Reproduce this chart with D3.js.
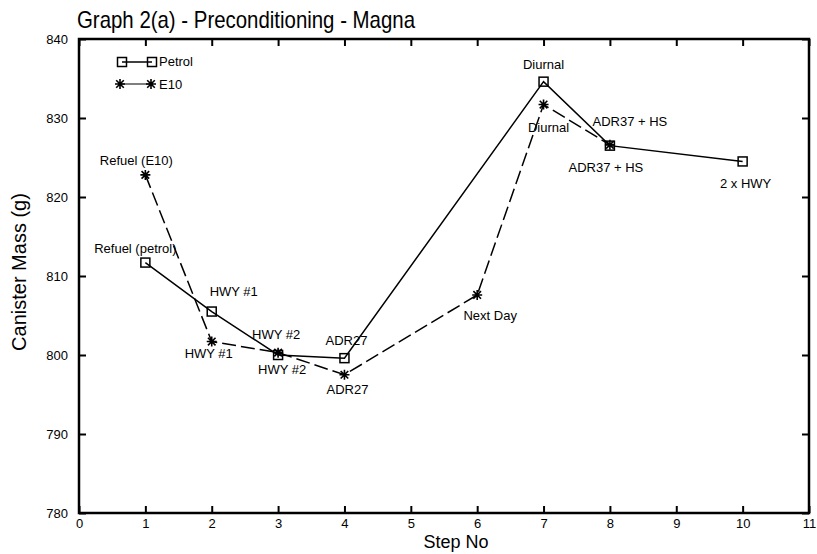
<!DOCTYPE html>
<html>
<head>
<meta charset="utf-8">
<script src="https://cdn.jsdelivr.net/npm/d3@7"></script>
<style>
  body { margin: 0; background: #fff; }
  text { font-family: "Liberation Sans", Arial, Helvetica, sans-serif; fill: #000; }
</style>
</head>
<body>
<div id="chart"></div>
<script>
//data
const petrolSteps = [1, 2, 3, 4, 7, 8, 10]
const petrolMass = [811.7, 805.5, 800.0, 799.6, 834.6, 826.5, 824.5]
const petrolLabels = ['Refuel (petrol)', 'HWY #1', 'HWY #2', 'ADR27', 'Diurnal', 'ADR37 + HS', '2 x HWY']

const e10Steps = [1, 2, 3, 4, 6, 7, 8]
const e10Mass = [822.8, 801.7, 800.3, 797.5, 807.6, 831.7, 826.6]
const e10Labels = ['Refuel (E10)', 'HWY #1', 'HWY #2', 'ADR27', 'Next Day', 'Diurnal', 'ADR37 + HS']

const xTicks = d3.range(0, 12)
const yTicks = [780, 790, 800, 810, 820, 830, 840]

// label offsets from their point (text centre, baseline)
const petrolOffsets = [[-10, -10], [22, -16], [-2, -16], [2, -13], [0, -13], [-4, 26], [3, 27]]
const e10Offsets = [[-9, -10], [-3, 16], [4, 21], [3, 19], [13, 25], [5, 27], [20, -19]]

//dimensions
const dimensions = {
  width: 817,
  height: 554,
  margin: { top: 39, right: 8, bottom: 41, left: 79 },
}
const innerW = dimensions.width - dimensions.margin.left - dimensions.margin.right
const innerH = dimensions.height - dimensions.margin.top - dimensions.margin.bottom

const svg = d3.select('#chart')
  .append('svg')
  .attr('width', dimensions.width)
  .attr('height', dimensions.height)

const g = svg.append('g')
  .attr('transform', `translate(${dimensions.margin.left},${dimensions.margin.top})`)

//scales
const x = d3.scaleLinear().domain([0, 11]).range([0, innerW])
const y = d3.scaleLinear().domain([780, 840]).range([innerH, 0])

//axes (ticks pointing inward, on all four sides)
const styleAxis = sel => {
  sel.select('.domain').remove()
  sel.selectAll('line').attr('stroke', '#000').attr('stroke-width', 2)
  sel.selectAll('text').attr('font-size', 13)
}

g.append('g')
  .attr('transform', `translate(0,${innerH})`)
  .call(d3.axisBottom(x).tickValues(xTicks).tickSizeInner(-7).tickSizeOuter(0).tickPadding(6))
  .call(styleAxis)

g.append('g')
  .call(d3.axisTop(x).tickValues(xTicks).tickSizeInner(-7).tickSizeOuter(0).tickFormat(''))
  .call(styleAxis)

g.append('g')
  .call(d3.axisLeft(y).tickValues(yTicks).tickSizeInner(-7).tickSizeOuter(0).tickPadding(11))
  .call(styleAxis)

g.append('g')
  .attr('transform', `translate(${innerW},0)`)
  .call(d3.axisRight(y).tickValues(yTicks).tickSizeInner(-7).tickSizeOuter(0).tickFormat(''))
  .call(styleAxis)

//frame
g.append('rect')
  .attr('width', innerW)
  .attr('height', innerH)
  .attr('fill', 'none')
  .attr('stroke', '#000')
  .attr('stroke-width', 2.5)

//lines
const line = d3.line().x(d => x(d[0])).y(d => y(d[1]))
const petrol = petrolSteps.map((s, i) => [s, petrolMass[i]])
const e10 = e10Steps.map((s, i) => [s, e10Mass[i]])

g.append('path')
  .datum(e10)
  .attr('d', line)
  .attr('fill', 'none')
  .attr('stroke', '#000')
  .attr('stroke-width', 1.5)
  .attr('stroke-dasharray', '14,5')

g.append('path')
  .datum(petrol)
  .attr('d', line)
  .attr('fill', 'none')
  .attr('stroke', '#000')
  .attr('stroke-width', 1.5)

//markers
const star = 'M0,-5V5M-5,0H5M-3.8,-3.8L3.8,3.8M-3.8,3.8L3.8,-3.8'

const drawSquare = (sel, px, py) => sel.append('rect')
  .attr('x', px - 4.5).attr('y', py - 4.5)
  .attr('width', 9).attr('height', 9)
  .attr('fill', 'none').attr('stroke', '#000').attr('stroke-width', 1.5)

const drawStar = (sel, px, py) => sel.append('path')
  .attr('transform', `translate(${px},${py})`)
  .attr('d', star)
  .attr('fill', 'none').attr('stroke', '#000').attr('stroke-width', 1.6)

petrol.forEach(d => drawSquare(g, x(d[0]), y(d[1])))
e10.forEach(d => drawStar(g, x(d[0]), y(d[1])))

//point labels
const labels = g.append('g').attr('font-size', 13).attr('text-anchor', 'middle')
petrol.forEach((d, i) => labels.append('text')
  .attr('x', x(d[0]) + petrolOffsets[i][0])
  .attr('y', y(d[1]) + petrolOffsets[i][1])
  .text(petrolLabels[i]))
e10.forEach((d, i) => labels.append('text')
  .attr('x', x(d[0]) + e10Offsets[i][0])
  .attr('y', y(d[1]) + e10Offsets[i][1])
  .text(e10Labels[i]))

//legend
const legend = svg.append('g').attr('font-size', 13)
legend.append('line').attr('x1', 122).attr('x2', 152).attr('y1', 62).attr('y2', 62)
  .attr('stroke', '#000').attr('stroke-width', 1.5)
drawSquare(legend, 122, 62)
drawSquare(legend, 152, 62)
legend.append('text').attr('x', 159).attr('y', 66).text('Petrol')

legend.append('line').attr('x1', 120).attr('x2', 151).attr('y1', 84).attr('y2', 84)
  .attr('stroke', '#000').attr('stroke-width', 1)
drawStar(legend, 120, 84)
drawStar(legend, 151, 84)
legend.append('text').attr('x', 159).attr('y', 89).text('E10')

//titles
svg.append('text')
  .attr('x', 77).attr('y', 28)
  .attr('font-size', 24)
  .attr('textLength', 338)
  .attr('lengthAdjust', 'spacingAndGlyphs')
  .text('Graph 2(a) - Preconditioning - Magna')

svg.append('text')
  .attr('x', 456).attr('y', 548)
  .attr('font-size', 18)
  .attr('text-anchor', 'middle')
  .text('Step No')

svg.append('text')
  .attr('transform', `translate(26,${dimensions.margin.top + innerH / 2 - 4}) rotate(-90)`)
  .attr('font-size', 20)
  .attr('text-anchor', 'middle')
  .text('Canister Mass (g)')
</script>
</body>
</html>
